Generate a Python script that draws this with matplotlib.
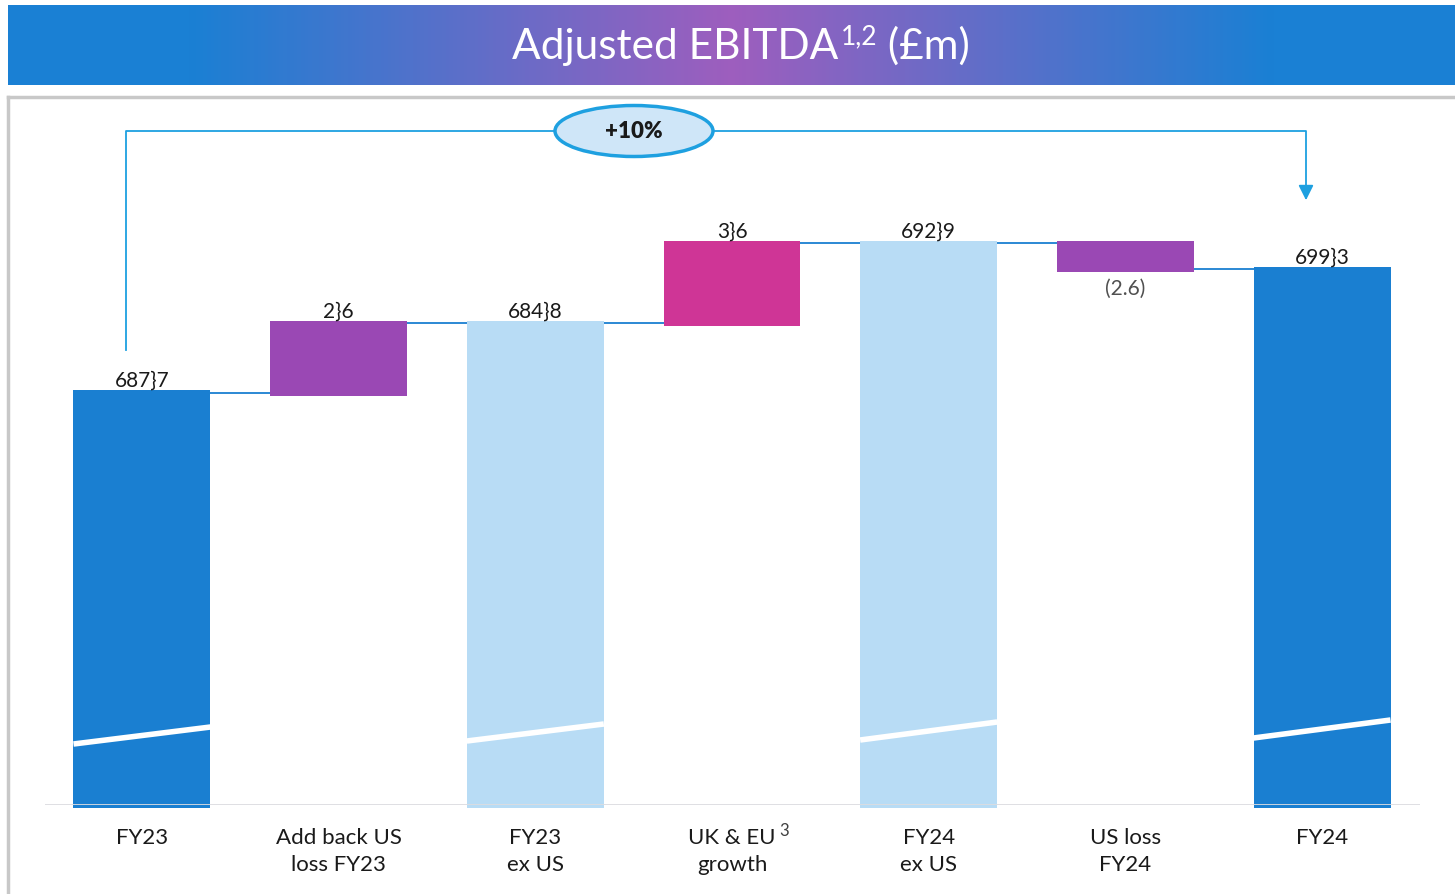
import numpy as np
import matplotlib
matplotlib.use("Agg")
import matplotlib.pyplot as plt
from matplotlib.patches import Ellipse

# ---- data (broken-axis display units) ----
categories = ["FY23", "Add back US\nloss FY23", "FY23\nex US", "UK & EU\ngrowth",
              "FY24\nex US", "US loss\nFY24", "FY24"]
bar_bottoms = [0, 409, 0, 479, 0, 533, 0]
bar_tops = [415, 484, 484, 564, 564, 564, 538]
value_labels = ["687}7", "2}6", "684}8", "3}6", "692}9", "(2.6)", "699}3"]
bar_colors = ["#1a7fd1", "#9a48b4", "#b8dcf5", "#cf3596", "#b8dcf5", "#9a48b4", "#1a7fd1"]
connector_levels = [412, 482, 482, 562, 562, 536]
break_lows = [61, None, 64, None, 65, None, 67]
break_highs = [78, None, 81, None, 83, None, 85]
growth_label = "+10%"
title_parts = ["Adjusted EBITDA", "1,2", " (£m)"]

W, H = 1455, 894
fig = plt.figure(figsize=(W / 100, H / 100), dpi=100)
plt.rcParams['font.family'] = ['Lato', 'DejaVu Sans']

# title banner with gradient
bax = fig.add_axes([8 / W, 1 - 85 / H, (W - 8) / W, 80 / H])
xs = np.linspace(-1, 1, 400)
t = np.clip(1 - np.abs(xs) / 0.75, 0, 1)
c1 = np.array([0x1a, 0x80, 0xd4]) / 255
c2 = np.array([0x9e, 0x5e, 0xbe]) / 255
grad = (c1[None, :] * (1 - t[:, None]) + c2[None, :] * t[:, None])[None, :, :]
bax.imshow(grad, aspect='auto', extent=[0, 1, 0, 1])
bax.set_xlim(0, 1); bax.set_ylim(0, 1); bax.axis('off')

# title pieces laid out side by side, centred
renderer = fig.canvas.get_renderer()
ty = 1 - 59 / H
sizes = [30.5, 19, 30.5]
offs = [0, 15 / H, 0]
texts = []
for part, sz, off in zip(title_parts, sizes, offs):
    texts.append(fig.text(0, ty + off, part, color='white', fontsize=sz,
                          ha='left', va='baseline', family=['Lato', 'DejaVu Sans']))
widths = [tx.get_window_extent(renderer).width for tx in texts]
total = sum(widths) + 2
xcur = 741 - total / 2
for i, (tx, w) in enumerate(zip(texts, widths)):
    tx.set_x(xcur / W)
    xcur += w + (2 if i == 0 else 0)

# frame
fax = fig.add_axes([8 / W, 0, (W - 8) / W, 1 - 97 / H])
fax.set_xlim(0, 1); fax.set_ylim(0, 1)
fax.set_xticks([]); fax.set_yticks([])
for s in ['right', 'bottom']:
    fax.spines[s].set_visible(False)
for s in ['left', 'top']:
    fax.spines[s].set_color('#c8c8c8'); fax.spines[s].set_linewidth(2.5)
fax.patch.set_alpha(0)

# main axes
left_px, right_px, base_px, top_px = 45, 1420, 805, 97
ax = fig.add_axes([left_px / W, 1 - base_px / H, (right_px - left_px) / W, (base_px - top_px) / H])
ax.patch.set_alpha(0)
spacing = 196.67
x0 = -(142 - left_px) / spacing
x1 = 6 + (right_px - 1322) / spacing
ax.set_xlim(x0, x1)
ax.set_ylim(0, base_px - top_px)
ax.axis('off')

x = np.arange(len(categories))
bw = 137 / spacing
heights = [t_ - b for t_, b in zip(bar_tops, bar_bottoms)]
bars = ax.bar(x, heights, bottom=bar_bottoms, width=bw, color=bar_colors, zorder=3)
for b in bars:
    b.set_clip_on(False)
# full bars extend a hair below the baseline
ax.bar(x[[0, 2, 4, 6]], [3] * 4, bottom=-3, width=bw,
       color=[bar_colors[i] for i in (0, 2, 4, 6)], zorder=3, clip_on=False)
ax.axhline(0, color='#dcdce0', lw=2, zorder=5)

# connectors
for i, lvl in enumerate(connector_levels):
    ax.plot([x[i] + bw / 2, x[i + 1] - bw / 2], [lvl, lvl], color='#1a7fd1', lw=1.3, zorder=2)

# axis-break marks
for i in range(len(categories)):
    if break_lows[i] is not None:
        ax.plot([x[i] - bw / 2, x[i] + bw / 2], [break_lows[i], break_highs[i]],
                color='white', lw=4, zorder=4, solid_capstyle='butt')

# value labels
for i, lab in enumerate(value_labels):
    if lab.startswith('('):
        ax.text(x[i], bar_bottoms[i] - 7, lab, ha='center', va='top', fontsize=15, color='#505050')
    else:
        ax.text(x[i], bar_tops[i] - 1, lab, ha='center', va='bottom', fontsize=15, color='#1a1a1a')

# category labels
for i, lab in enumerate(categories):
    ax.text(x[i], -23, lab, ha='center', va='top', fontsize=16, color='#1a1a1a', linespacing=1.45)
ax.text(x[3] + 0.24, -18, "3", ha='left', va='top', fontsize=12, color='#404040')

# growth bracket
bx_l = x[0] - 16 / spacing
bx_r = x[6] - 16 / spacing
ytop = base_px - 131
ax.plot([bx_l, bx_l, bx_r, bx_r], [base_px - 350, ytop, ytop, base_px - 190],
        color='#1ea0e0', lw=1.3, zorder=2)
ax.annotate('', xy=(bx_r, base_px - 203), xytext=(bx_r, base_px - 186),
            arrowprops=dict(arrowstyle='-|>,head_width=0.45,head_length=0.9',
                            color='#1ea0e0', lw=1.3))
ell = Ellipse((x[3] - 98 / spacing, ytop), width=158 / spacing, height=51,
              facecolor='#cfe6f8', edgecolor='#1ea0e0', lw=2.5, zorder=3)
ax.add_patch(ell)
ax.text(x[3] - 98 / spacing, ytop, growth_label, ha='center', va='center',
        fontsize=16, fontweight='heavy', color='#1a1a1a', zorder=4)

fig.savefig("out.png", dpi=100)
